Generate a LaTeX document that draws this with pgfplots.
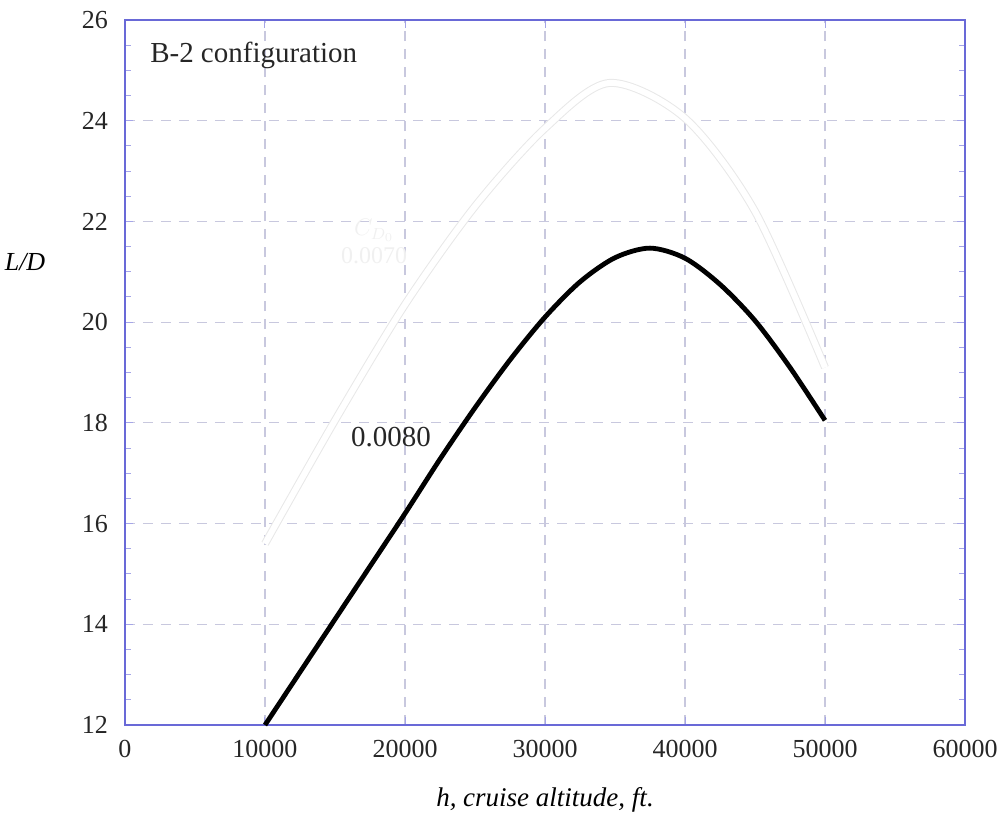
\documentclass[border=0pt]{standalone}
\usepackage{pgfplots}
\pgfplotsset{compat=1.18}
\usepackage{fontspec}
\setmainfont{Liberation Serif}
\definecolor{frameblue}{RGB}{105,105,215}
\definecolor{gridc}{RGB}{200,200,222}
\begin{document}
\begin{tikzpicture}
\begin{axis}[
  scale only axis,
  width=420pt, height=352.5pt,
  xmin=0, xmax=60000, ymin=12, ymax=26,
  xtick={0,10000,...,60000},
  ytick={12,14,...,26},
  minor y tick num=3,
  scaled x ticks=false,
  x tick label style={yshift=-4pt},
  y tick label style={xshift=-5pt},
  /pgf/number format/fixed,
  /pgf/number format/use comma=false,
  /pgf/number format/1000 sep={},
  /pgf/number format/assume math mode=true,
  tick label style={font=\fontsize{13}{15}\selectfont, text=black!85},
  axis line style={frameblue, line width=1.2pt},
  tick style={frameblue!60, line width=0.5pt},
  major tick length=4pt, minor tick length=3pt,
  grid=major,
  major grid style={gridc, dash pattern=on 5pt off 4pt, line width=0.6pt},
  xlabel={\textit{h, cruise altitude, ft.}},
  ylabel={\textit{L/D}},
  x label style={at={(axis description cs:0.5,-0.106)}, anchor=center, font=\fontsize{13.5}{15}\selectfont},
  y label style={at={(axis description cs:-0.119,0.657)}, rotate=-90, anchor=center, font=\fontsize{13}{15}\selectfont},
  clip=false,
]
\coordinate (bl) at (rel axis cs:-0.1488,-0.139);
\coordinate (tr) at (rel axis cs:1.0512,1.0284);
% faint ghost curve
\addplot[smooth, tension=0.5, draw=black!9, double=white, double distance=3pt, line width=0.5pt] coordinates {
  (10000,15.6) (15000,18.05) (20000,20.35) (25000,22.3) (30000,23.85) (34600,24.75) (40000,24.05) (45000,22.2) (50000,19.1)
};
\node[text=black!6, font=\fontsize{12}{14}\selectfont, align=center] at (axis cs:17800,21.6) {$C_{D_0}$\\0.0070};
% main curve
\addplot[smooth, tension=0.5, black, line width=2.4pt] coordinates {
  (10000,12.0) (12500,13.05) (15000,14.1) (17500,15.15) (20000,16.2) (22500,17.28)
  (25000,18.3) (27500,19.25) (30000,20.1) (32500,20.8) (35000,21.28) (37500,21.47)
  (40000,21.27) (42500,20.75) (45000,20.03) (47500,19.1) (50000,18.05)
};
\node[font=\fontsize{14.5}{16}\selectfont, text=black!85] at (axis cs:19000,17.72) {0.0080};
\node[anchor=west, font=\fontsize{14.5}{16}\selectfont, text=black!85] at (axis cs:1300,25.3) {B-2 configuration};
\end{axis}
\pgfresetboundingbox
\path (bl) rectangle (tr);
\end{tikzpicture}
\end{document}
